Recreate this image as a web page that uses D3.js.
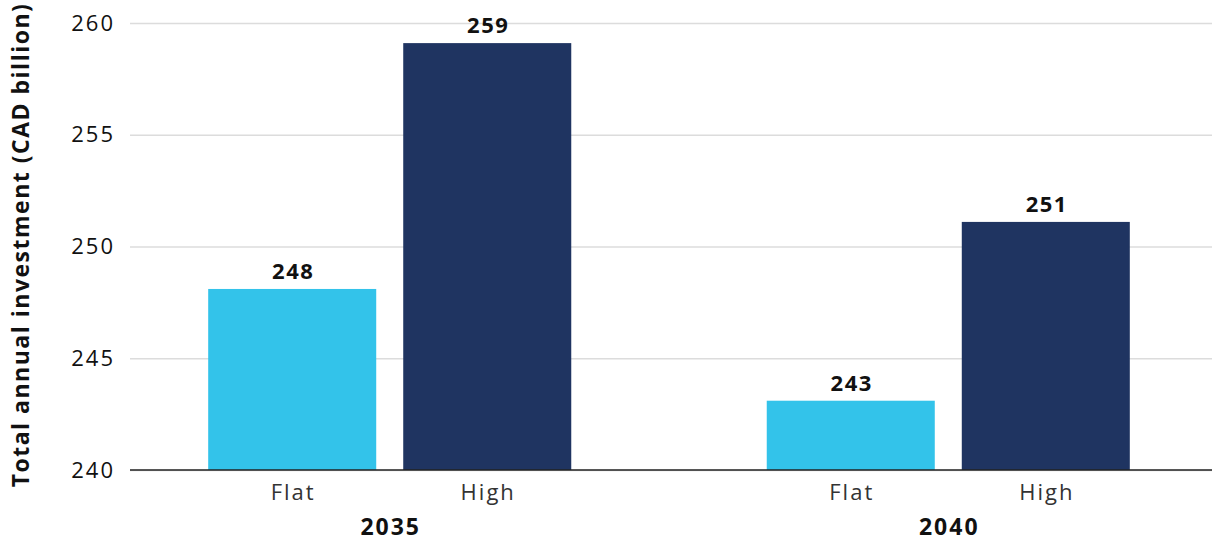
<!DOCTYPE html>
<html>
<head>
<meta charset="utf-8">
<script src="https://cdn.jsdelivr.net/npm/d3@7"></script>
<style>
  html, body { margin: 0; padding: 0; background: #fff; }
  svg { display: block; }
</style>
</head>
<body>
<div id="chart"></div>
<script>
// Data
var years = ["2035", "2040"];
var scenarios = ["Flat", "High"];
var flatValues = [248.1, 243.1];
var highValues = [259.1, 251.1];
var valueLabels = [["248", "259"], ["243", "251"]];
var yTicks = [240, 245, 250, 255, 260];
var yTitle = "Total annual investment (CAD billion)";

var colours = { Flat: "#33c3ea", High: "#1f3461" };
var fontFamily = "'Open Sans', 'Lato', sans-serif";

var width = 1212, height = 541;

var svg = d3.select("#chart").append("svg")
  .attr("width", width)
  .attr("height", height);

var rows = years.map(function (yr, i) {
  return {
    year: yr,
    values: [
      { key: "Flat", value: flatValues[i], label: valueLabels[i][0] },
      { key: "High", value: highValues[i], label: valueLabels[i][1] }
    ]
  };
});

// Scales
var x0 = d3.scaleBand()
  .domain(years)
  .range([130, 1208])
  .paddingInner(0.35)
  .paddingOuter(0.14);

var x1 = d3.scaleBand()
  .domain(scenarios)
  .range([0, x0.bandwidth()])
  .paddingInner(0.1385)
  .paddingOuter(0);

var y = d3.scaleLinear()
  .domain([240, 260])
  .range([470, 23]);

// Gridlines + tick labels
var yAxis = d3.axisLeft(y)
  .tickValues(yTicks)
  .tickSize(0)
  .tickPadding(15)
  .tickFormat(d3.format("d"));

svg.append("g")
  .attr("transform", "translate(130,0)")
  .call(yAxis)
  .call(function (g) { g.select(".domain").remove(); })
  .call(function (g) {
    g.selectAll(".tick line")
      .attr("x2", width - 130)
      .attr("stroke", "#dcdcdc")
      .attr("stroke-width", 1.5);
  })
  .call(function (g) {
    g.selectAll(".tick text")
      .attr("font-family", fontFamily)
      .attr("font-size", 22)
      .attr("letter-spacing", 2)
      .attr("fill", "#111");
  });

// Bars
var groups = svg.selectAll(".year-group")
  .data(rows).join("g")
    .attr("class", "year-group")
    .attr("transform", function (d) { return "translate(" + x0(d.year) + ",0)"; });

groups.selectAll(".bar")
  .data(function (d) { return d.values; }).join("rect")
    .attr("class", "bar")
    .attr("x", function (d) { return x1(d.key); })
    .attr("width", x1.bandwidth())
    .attr("y", function (d) { return y(d.value); })
    .attr("height", function (d) { return y(240) - y(d.value); })
    .attr("fill", function (d) { return colours[d.key]; });

// Value labels
groups.selectAll(".val")
  .data(function (d) { return d.values; }).join("text")
    .attr("class", "val")
    .attr("x", function (d) { return x1(d.key) + x1.bandwidth() / 2 + 1; })
    .attr("y", function (d) { return y(d.value) - 10; })
    .attr("text-anchor", "middle")
    .attr("font-family", fontFamily)
    .attr("font-size", 22)
    .attr("font-weight", 700)
    .attr("letter-spacing", 1.5)
    .attr("fill", "#111")
    .text(function (d) { return d.label; });

// Scenario labels
groups.selectAll(".cat")
  .data(function (d) { return d.values; }).join("text")
    .attr("class", "cat")
    .attr("x", function (d) { return x1(d.key) + x1.bandwidth() / 2 + 1; })
    .attr("y", 500)
    .attr("text-anchor", "middle")
    .attr("font-family", fontFamily)
    .attr("font-size", 22)
    .attr("letter-spacing", 2)
    .attr("fill", "#333")
    .text(function (d) { return d.key; });

// Year labels
groups.append("text")
  .attr("x", x0.bandwidth() / 2 + 1)
  .attr("y", 535)
  .attr("text-anchor", "middle")
  .attr("font-family", fontFamily)
  .attr("font-size", 23)
  .attr("font-weight", 700)
  .attr("letter-spacing", 2)
  .attr("fill", "#111")
  .text(function (d) { return d.year; });

// Baseline
svg.append("line")
  .attr("x1", 130).attr("x2", width)
  .attr("y1", y(240)).attr("y2", y(240))
  .attr("stroke", "#222").attr("stroke-width", 1.5);

// Y-axis title
svg.append("text")
  .attr("transform", "translate(29," + 245 + ") rotate(-90)")
  .attr("text-anchor", "middle")
  .attr("font-family", fontFamily)
  .attr("font-size", 23)
  .attr("font-weight", 700)
  .attr("letter-spacing", 1.5)
  .attr("fill", "#111")
  .text(yTitle);
</script>
</body>
</html>
